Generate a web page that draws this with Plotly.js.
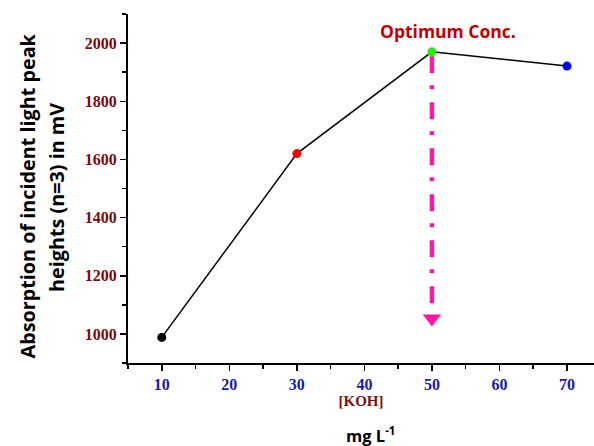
<!DOCTYPE html>
<html>
<head>
<meta charset="utf-8">
<script src="https://cdn.plot.ly/plotly-3.0.1.min.js"></script>
<style>html,body{margin:0;padding:0;background:#fff;}#chart{width:594px;height:446px;}</style>
</head>
<body>
<div id="chart"></div>
<script>
// Data
const koh = [10, 30, 50, 70];
const absorption = [988, 1620, 1970, 1921];
const pointColors = ['#000000', '#ff0000', '#22ee00', '#0000ff'];
const xTicks = [10, 20, 30, 40, 50, 60, 70];
const yTicks = [1000, 1200, 1400, 1600, 1800, 2000];
const arrowX = [50, 50];
const arrowY = [1955, 1105];
const arrowHeadX = [50];
const arrowHeadY = [1053];

const traces = [
  {
    x: koh, y: absorption, type: 'scatter', mode: 'lines+markers',
    line: {color: '#000000', width: 1.5},
    marker: {color: pointColors, size: 9},
    hoverinfo: 'skip', showlegend: false
  },
  {
    x: arrowX, y: arrowY, type: 'scatter', mode: 'lines',
    line: {color: '#ff18a8', width: 4.5, dash: '17px,12px,4px,13px'},
    hoverinfo: 'skip', showlegend: false
  },
  {
    x: arrowHeadX, y: arrowHeadY, type: 'scatter', mode: 'markers',
    marker: {color: '#ff18a8', size: 16, symbol: 'triangle-down'},
    hoverinfo: 'skip', showlegend: false
  }
];

const layout = {
  width: 594, height: 446,
  margin: {l: 128, r: 0, t: 14, b: 83},
  paper_bgcolor: '#ffffff', plot_bgcolor: '#ffffff',
  xaxis: {
    range: [5, 74], showgrid: false, zeroline: false,
    showline: true, linecolor: '#000', linewidth: 2,
    ticks: 'outside', ticklen: 6, tickwidth: 1.5, tickcolor: '#000',
    tickvals: xTicks, ticktext: xTicks.map(String),
    tickfont: {family: 'Liberation Serif, serif', size: 16, color: '#1a1aa0', weight: 'bold'},
    minor: {dtick: 5, tick0: 0, ticklen: 4, tickwidth: 1.5, tickcolor: '#000', ticks: 'outside'},
    title: {text: '[KOH]', font: {family: 'Liberation Serif, serif', size: 15, color: '#7a1010', weight: 'bold'}, standoff: 3}
  },
  yaxis: {
    range: [900, 2100], showgrid: false, zeroline: false,
    showline: true, linecolor: '#000', linewidth: 2,
    ticks: 'outside', ticklen: 6, tickwidth: 1.5, tickcolor: '#000',
    tickvals: yTicks, ticktext: yTicks.map(String),
    tickfont: {family: 'Liberation Serif, serif', size: 16, color: '#7a0a0a', weight: 'bold'},
    minor: {dtick: 100, tick0: 0, ticklen: 4, tickwidth: 1.5, tickcolor: '#000', ticks: 'outside'}
  },
  annotations: [
    {text: 'Absorption of incident light peak', xref: 'paper', yref: 'paper',
     x: -0.216, y: 0.478, xanchor: 'center', yanchor: 'middle', textangle: -90, showarrow: false,
     font: {family: 'Open Sans, sans-serif', size: 19.8, color: '#000', weight: 'bold'}},
    {text: 'heights (n=3) in mV', xref: 'paper', yref: 'paper',
     x: -0.155, y: 0.475, xanchor: 'center', yanchor: 'middle', textangle: -90, showarrow: false,
     font: {family: 'Open Sans, sans-serif', size: 19.8, color: '#000', weight: 'bold'}},
    {text: 'Optimum Conc.', xref: 'paper', yref: 'paper',
     x: 0.687, y: 0.951, xanchor: 'center', yanchor: 'middle', showarrow: false,
     font: {family: 'Open Sans, sans-serif', size: 17.5, color: '#c00000', weight: 'bold'}},
    {text: 'mg L<sup>-1</sup>', xref: 'paper', yref: 'paper',
     x: 0.521, y: -0.205, xanchor: 'center', yanchor: 'middle', showarrow: false,
     font: {family: 'Open Sans, sans-serif', size: 16.5, color: '#000', weight: 'bold'}}
  ]
};

Plotly.newPlot('chart', traces, layout, {staticPlot: true, displayModeBar: false});
</script>
</body>
</html>
